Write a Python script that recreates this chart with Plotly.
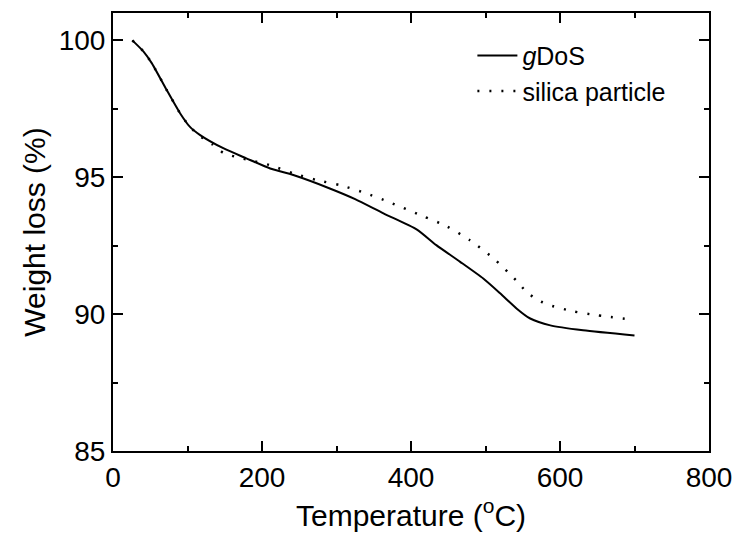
import plotly.graph_objects as go

# Solid curve: gDoS
gdos_temp = [26, 41, 52, 72, 90, 103, 117, 148, 179, 211, 242, 291, 325, 363, 408, 434, 466, 497, 520, 542, 560, 587, 631, 700]
gdos_wt = [100.0, 99.59, 99.17, 98.19, 97.34, 96.85, 96.54, 96.06, 95.69, 95.32, 95.08, 94.59, 94.2, 93.68, 93.09, 92.52, 91.91, 91.30, 90.75, 90.20, 89.84, 89.59, 89.41, 89.22]

# Dotted curve: silica particle
silica_temp = [26, 41, 52, 72, 90, 103, 117, 133, 148, 164, 179, 211, 242, 273, 305, 338, 370, 416, 448, 479, 511, 541, 555, 571, 587, 618, 649, 698]
silica_wt = [100.0, 99.59, 99.17, 98.19, 97.34, 96.85, 96.50, 96.21, 95.89, 95.75, 95.65, 95.44, 95.14, 94.90, 94.71, 94.43, 94.10, 93.58, 93.21, 92.70, 92.03, 91.24, 90.81, 90.50, 90.32, 90.10, 89.96, 89.80]

x_ticks = [0, 200, 400, 600, 800]
y_ticks = [85, 90, 95, 100]

FONT = "Liberation Sans, Arial, Helvetica, sans-serif"

fig = go.Figure()
fig.add_trace(go.Scatter(x=gdos_temp, y=gdos_wt, mode="lines", name="<i>g</i>DoS",
                         line=dict(color="black", width=2, shape="spline", smoothing=0.6)))
fig.add_trace(go.Scatter(x=silica_temp, y=silica_wt, mode="lines", name="silica particle",
                         line=dict(color="black", width=2.5, dash="2px,10px", shape="spline", smoothing=0.6)))

axis_common = dict(
    showline=True, linecolor="black", linewidth=2, mirror="allticks",
    ticks="inside", ticklen=10, tickwidth=1.5, tickcolor="black",
    showgrid=False, zeroline=False, automargin=False,
    tickfont=dict(family=FONT, size=28, color="black"),
)

fig.update_xaxes(range=[0, 800], tickvals=x_ticks, ticktext=[str(v) for v in x_ticks],
                 minor=dict(ticks="inside", ticklen=5, tickwidth=1.5, tickcolor="black", dtick=100, tick0=0),
                 title=dict(text="Temperature (<sup>o</sup>C)", font=dict(family=FONT, size=30, color="black"), standoff=13),
                 **axis_common)
fig.update_yaxes(range=[85, 101], tickvals=y_ticks, ticktext=[str(v) for v in y_ticks],
                 minor=dict(ticks="inside", ticklen=5, tickwidth=1.5, tickcolor="black", dtick=2.5, tick0=85),
                 title=dict(text="Weight loss (%)", font=dict(family=FONT, size=30, color="black"), standoff=4),
                 **axis_common)

fig.update_layout(
    width=737, height=543,
    margin=dict(l=113, r=28, t=13, b=92),
    paper_bgcolor="white", plot_bgcolor="white",
    showlegend=True,
    legend=dict(x=0.603, y=0.955, xanchor="left", yanchor="top",
                font=dict(family=FONT, size=25, color="black"),
                bgcolor="rgba(0,0,0,0)", tracegroupgap=0, itemwidth=40),
)

fig.write_html("out.html", config={"displayModeBar": False},
               post_script="document.body.style.margin='0';document.body.style.overflow='hidden';")
